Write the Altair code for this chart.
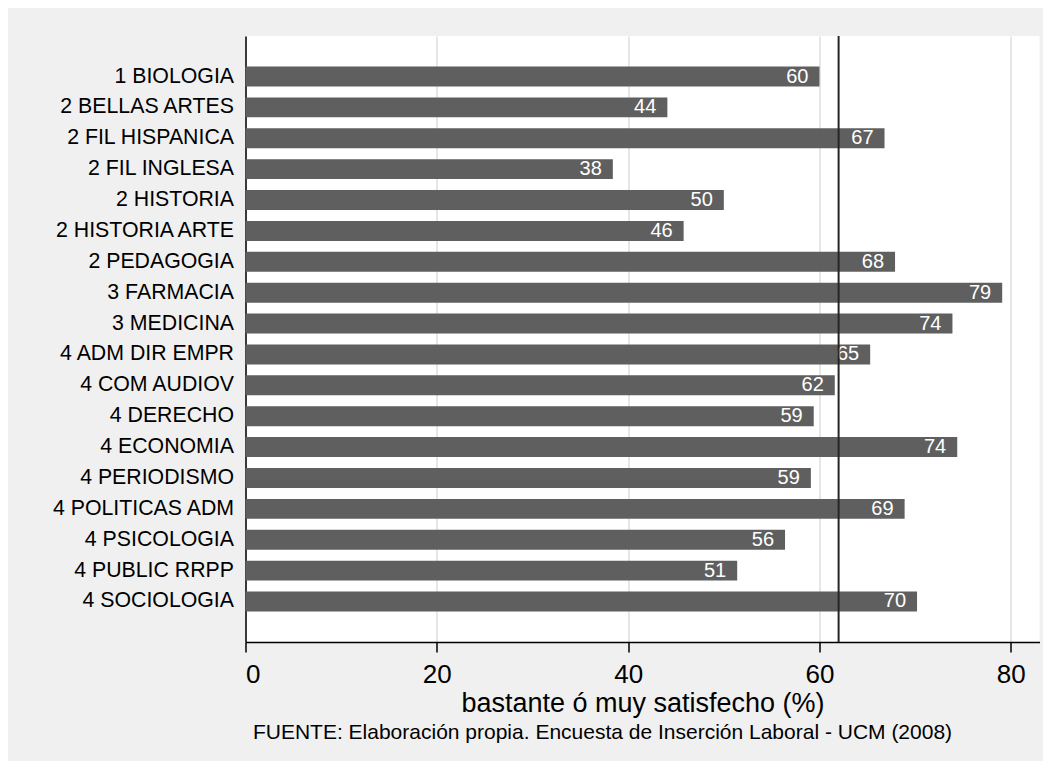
import altair as alt
import pandas as pd

categories = [
    "1 BIOLOGIA", "2 BELLAS ARTES", "2 FIL HISPANICA", "2 FIL INGLESA",
    "2 HISTORIA", "2 HISTORIA ARTE", "2 PEDAGOGIA", "3 FARMACIA",
    "3 MEDICINA", "4 ADM DIR EMPR", "4 COM AUDIOV", "4 DERECHO",
    "4 ECONOMIA", "4 PERIODISMO", "4 POLITICAS ADM", "4 PSICOLOGIA",
    "4 PUBLIC RRPP", "4 SOCIOLOGIA",
]
values = [60.0, 44.1, 66.8, 38.4, 50.0, 45.8, 67.9, 79.1, 73.9,
          65.3, 61.6, 59.4, 74.4, 59.1, 68.9, 56.4, 51.4, 70.2]
labels = ["60", "44", "67", "38", "50", "46", "68", "79", "74",
          "65", "62", "59", "74", "59", "69", "56", "51", "70"]
ref_value = 62
x_ticks = [0, 20, 40, 60, 80]

df = pd.DataFrame({"cat": categories, "val": values, "lab": labels})

FONT = "Liberation Sans"

x_scale = alt.Scale(domain=[0, 83], nice=False, zero=True)
y_scale = alt.Scale(paddingInner=0.355, paddingOuter=0.99)

base = alt.Chart(df)

bars = base.mark_bar(color="#5F5F5F").encode(
    x=alt.X("val:Q", scale=x_scale,
            axis=alt.Axis(values=x_ticks, title="bastante ó muy satisfecho (%)",
                          titleFontSize=27, titleFontWeight="normal", titleColor="black",
                          titleFont=FONT, titlePadding=3,
                          labelFontSize=26, labelFont=FONT, labelColor="black",
                          labelPadding=9, tickSize=10, tickColor="black", tickWidth=1.5,
                          domainColor="black", domainWidth=1.5,
                          grid=True, gridColor="#E6E6E6", gridWidth=2)),
    y=alt.Y("cat:N", sort=None, scale=y_scale,
            axis=alt.Axis(title=None, labelFontSize=21.3, labelFont=FONT, labelColor="black",
                          labelPadding=12, ticks=False, domainColor="black",
                          domainWidth=1.5, grid=False, labelLimit=400)),
)

text = base.mark_text(color="white", align="right", baseline="middle", dx=-11,
                      fontSize=20, font=FONT).encode(
    x=alt.X("val:Q", scale=x_scale),
    y=alt.Y("cat:N", sort=None, scale=y_scale),
    text="lab:N",
)

rule = alt.Chart(pd.DataFrame({"r": [ref_value]})).mark_rule(
    color="#262626", strokeWidth=2).encode(x=alt.X("r:Q", scale=x_scale))

chart = alt.layer(bars, text, rule).properties(
    width=794,
    height=606,
    autosize=alt.AutoSizeParams(type="none"),
    padding={"left": 237.5, "top": 28, "right": 3.5, "bottom": 119},
    background="#F0F0F0",
    title=alt.TitleParams(
        text="FUENTE: Elaboración propia. Encuesta de Inserción Laboral - UCM (2008)",
        orient="bottom", anchor="middle", fontSize=21, fontWeight="normal",
        font=FONT, color="black", dx=-40, offset=6),
).configure_view(fill="white", stroke=None)

chart.save("out.html", embed_options={"renderer": "svg", "actions": False})
